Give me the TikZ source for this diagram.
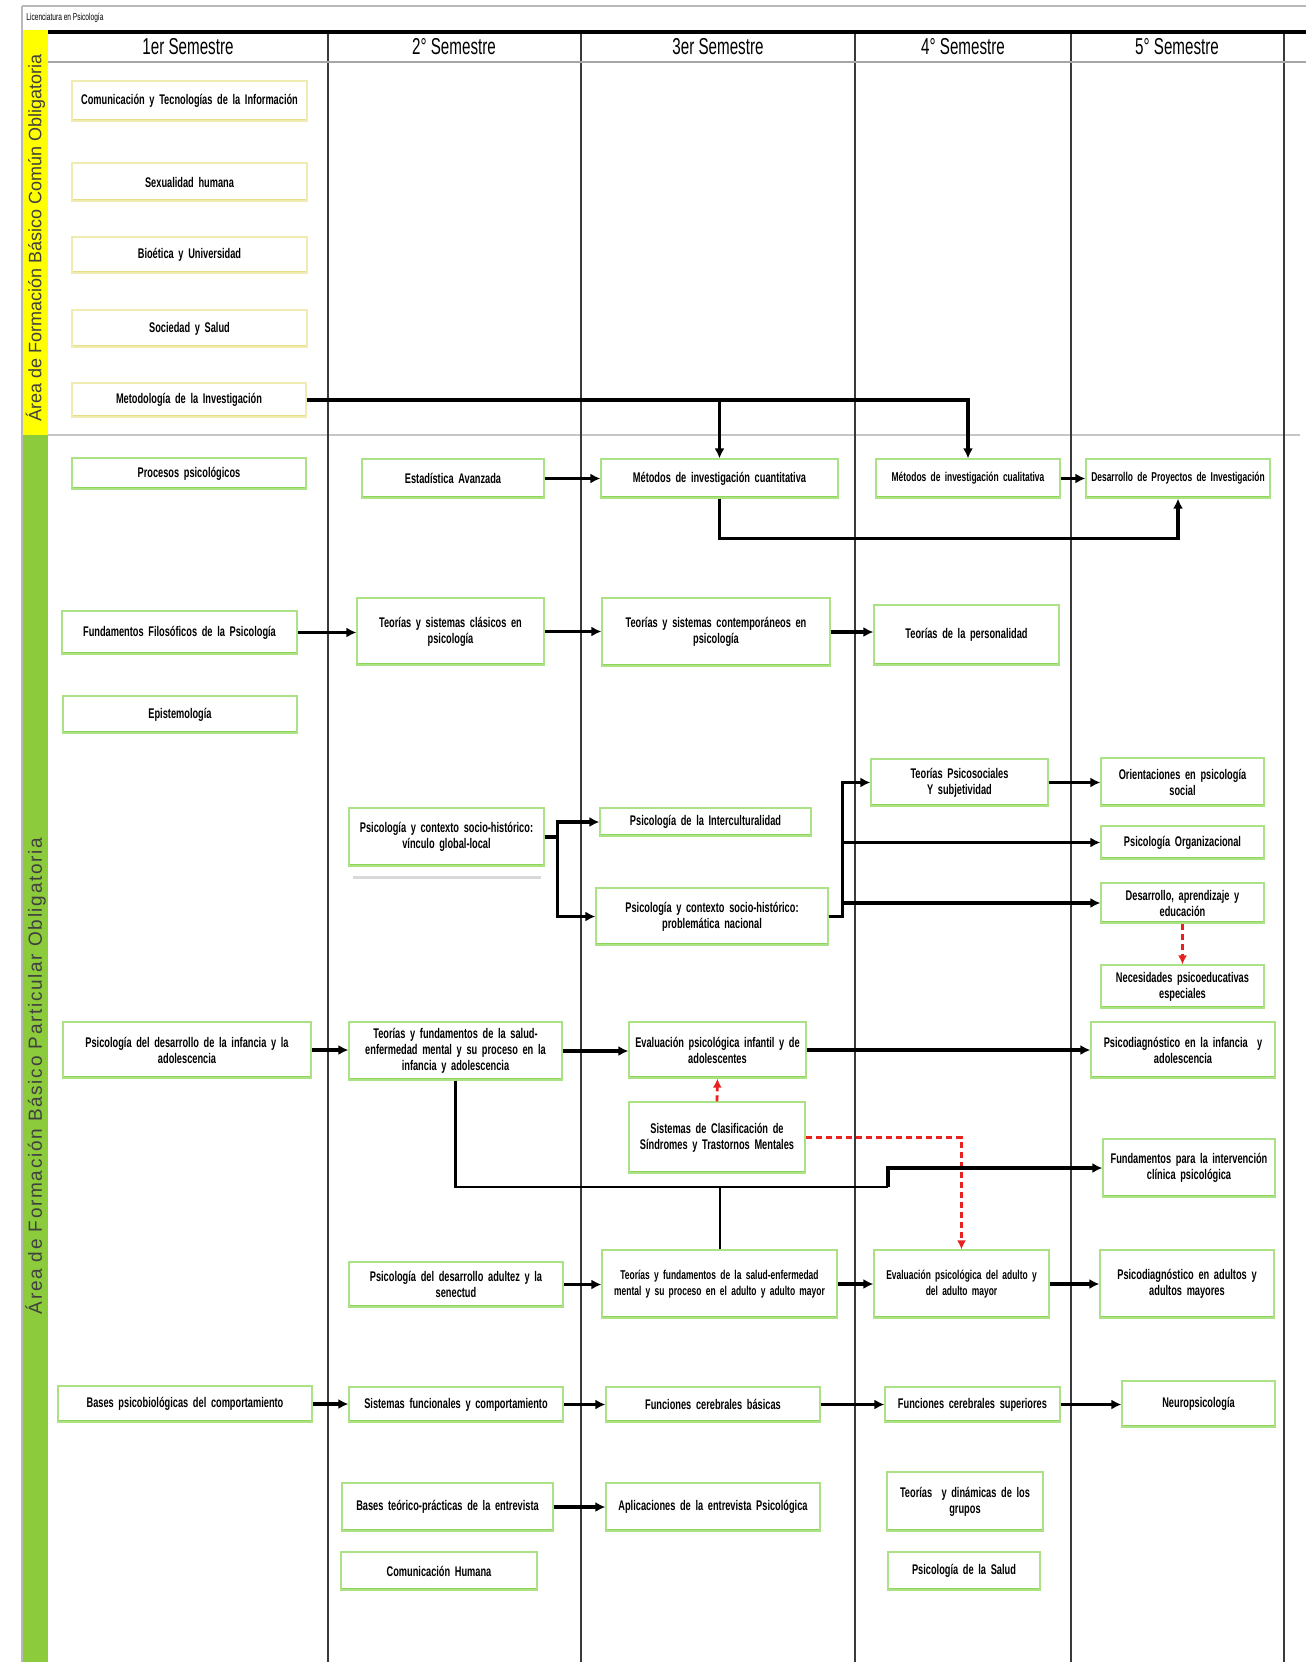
\documentclass[tikz,border=0pt]{standalone}
\usepackage{fontspec}
\setmainfont{Liberation Sans}
\newfontfamily\condf[FakeStretch=0.66]{Liberation Sans}
\newfontfamily\hdrf[FakeStretch=0.66]{Liberation Sans}
\newfontfamily\lblfont{Liberation Sans}
\newfontfamily\lblwide[LetterSpace=9]{Liberation Sans}
\usetikzlibrary{arrows.meta}
\definecolor{bandyellow}{HTML}{FFFF00}
\definecolor{bandgreen}{HTML}{8CCB3C}
\definecolor{boxgreen}{HTML}{ABE285}
\definecolor{boxgreenb}{HTML}{8ED65A}
\definecolor{boxyellow}{HTML}{F0EBB0}
\definecolor{boxyellowb}{HTML}{E6DE86}
\definecolor{dashred}{HTML}{E8231F}
\definecolor{colline}{HTML}{3A3A3A}
\newcommand{\boxfont}{\condf\bfseries\fontsize{7}{8}\selectfont\spaceskip=1.4pt plus 0.6pt minus 0.3pt\relax}
\newcommand{\boxfontsm}{\condf\bfseries\fontsize{6.4}{8}\selectfont\spaceskip=1.3pt plus 0.6pt minus 0.3pt\relax}
\newcommand{\hdrfont}{\hdrf\fontsize{11.5}{12}\selectfont}
\newcommand{\bx}[7][gbox]{%
  \pgfmathsetmacro{\bxcx}{(#3+#5)/2}%
  \pgfmathsetmacro{\bxcy}{(#4+#6)/2}%
  \pgfmathsetmacro{\bxw}{(#5-#3)*0.5}%
  \pgfmathsetmacro{\bxh}{(#6-#4)*0.5}%
  \pgfmathsetmacro{\bxtw}{(#5-#3)*0.5-4}%
  \node[#1, minimum width=\bxw pt, minimum height=\bxh pt, text width=\bxtw pt] (#2) at (\bxcx,\bxcy) {#7};%
}
\begin{document}
\begin{tikzpicture}[x=0.5pt,y=-0.5pt,
  gbox/.style={draw=boxgreen, line width=0.6pt, fill=white, align=center,
    inner xsep=2pt, inner ysep=1pt, font=\boxfont,
    path picture={\draw[boxgreenb,line width=1.6pt] (path picture bounding box.south west) -- (path picture bounding box.south east);}},
  ybox/.style={draw=boxyellow, line width=0.6pt, fill=white, align=center,
    inner xsep=2pt, inner ysep=1pt, font=\boxfont,
    path picture={\draw[boxyellowb,line width=1.6pt] (path picture bounding box.south west) -- (path picture bounding box.south east);}},
  arr/.style={line width=1.6pt, -{Latex[length=5pt,width=5pt]}},
  redarr/.style={dashred, line width=1.4pt, dash pattern=on 3pt off 2pt, -{Latex[length=4.5pt,width=4.5pt]}},
  hdr/.style={font=\hdrfont, inner sep=0pt},
  colrule/.style={colline, line width=0.8pt}]
\useasboundingbox (0,0) rectangle (1306,1662);
\fill[white] (0,0) rectangle (1306,1662);
% frame and title
\draw[gray!55, line width=0.8pt] (22,6) -- (1306,6);
\draw[gray!55, line width=0.6pt] (22,6) -- (22,1662);
\node[font=\hdrf\fontsize{5}{5}\selectfont, anchor=west, inner sep=0pt] (title) at (26,18) {Licenciatura en Psicología};
% bands
\fill[bandyellow] (23,30) rectangle (48,435);
\fill[bandgreen] (23,435) rectangle (48,1662);
\node[rotate=90, font=\lblfont\fontsize{9}{9}\selectfont, text=black!75, inner sep=0pt] (lblA) at (35.5,238) {Área de Formación Básico Común Obligatoria};
\node[rotate=90, font=\lblwide\fontsize{9.5}{9.5}\selectfont, text=black!75, inner sep=0pt] (lblB) at (35.5,1076) {Área de Formación Básico Particular Obligatoria};
% header and columns
\draw[gray!45, line width=0.6pt] (48,435) -- (1300,435);
\foreach \xx in {328,581,855,1071,1284} {\draw[colrule] (\xx,32) -- (\xx,1662);}
\draw[black, line width=1.6pt] (48,32) -- (1306,32);
\draw[gray!70, line width=1.1pt] (48,62) -- (1306,62);
\node[hdr] (h1) at (188,47) {1er Semestre};
\node[hdr] (h2) at (454,47) {2° Semestre};
\node[hdr] (h3) at (718,47) {3er Semestre};
\node[hdr] (h4) at (963,47) {4° Semestre};
\node[hdr] (h5) at (1177,47) {5° Semestre};
% yellow-area boxes
\bx[ybox]{com}{72}{81}{307}{121}{Comunicación y Tecnologías de la Información}
\bx[ybox]{sex}{72}{163}{307}{201}{Sexualidad humana}
\bx[ybox]{bio}{72}{237}{307}{273}{Bioética y Universidad}
\bx[ybox]{socs}{72}{310}{307}{347}{Sociedad y Salud}
\bx[ybox]{met}{72}{383}{306}{417}{Metodología de la Investigación}
% column 1
\bx{proc}{72}{458}{306}{489}{Procesos psicológicos}
\bx{fund}{62}{611}{297}{654}{Fundamentos Filosóficos de la Psicología}
\bx{epi}{63}{696}{297}{733}{Epistemología}
\bx{infd}{63}{1022}{311}{1078}{Psicología del desarrollo de la infancia y la\\adolescencia}
\bx{bpc}{58}{1386}{312}{1422}{Bases psicobiológicas del comportamiento}
% column 2
\bx{est}{362}{459}{544}{498}{Estadística Avanzada}
\bx{clas}{357}{598}{544}{665}{Teorías y sistemas clásicos en\\psicología}
\bx{soc1}{349}{808}{544}{866}{Psicología y contexto socio-histórico:\\vínculo global-local}
\fill[gray!30] (353,876) rectangle (541,879);
\bx{tfi}{349}{1022}{562}{1080}{Teorías y fundamentos de la salud-\\enfermedad mental y su proceso en la\\infancia y adolescencia}
\bx{adu}{349}{1262}{563}{1307}{Psicología del desarrollo adultez y la\\senectud}
\bx{sfc}{349}{1387}{563}{1422}{Sistemas funcionales y comportamiento}
\bx{btp}{342}{1483}{553}{1531}{Bases teórico-prácticas de la entrevista}
\bx{chum}{341}{1552}{537}{1590}{Comunicación Humana}
% column 3
\bx{cuant}{601}{459}{838}{498}{Métodos de investigación cuantitativa}
\bx{cont}{602}{598}{830}{666}{Teorías y sistemas contemporáneos en\\psicología}
\bx{inter}{600}{808}{811}{836}{Psicología de la Interculturalidad}
\bx{prob}{596}{888}{828}{945}{Psicología y contexto socio-histórico:\\problemática nacional}
\bx{evi}{629}{1022}{806}{1078}{Evaluación psicológica infantil y de\\adolescentes}
\bx{sis}{629}{1102}{805}{1173}{Sistemas de Clasificación de\\Síndromes y Trastornos Mentales}
\bx[gbox,font=\boxfontsm]{tfa}{602}{1250}{837}{1318}{Teorías y fundamentos de la salud-enfermedad\\mental y su proceso en el adulto y adulto mayor}
\bx{fcb}{606}{1387}{820}{1422}{Funciones cerebrales básicas}
\bx{apl}{606}{1483}{820}{1531}{Aplicaciones de la entrevista Psicológica}
% column 4
\bx[gbox,font=\boxfontsm]{cuali}{876}{459}{1060}{498}{Métodos de investigación cualitativa}
\bx{pers}{874}{605}{1059}{665}{Teorías de la personalidad}
\bx{psoc}{871}{759}{1048}{806}{Teorías Psicosociales\\Y subjetividad}
\bx[gbox,font=\boxfontsm]{eva}{874}{1250}{1049}{1318}{Evaluación psicológica del adulto y\\del adulto mayor}
\bx{fcs}{885}{1387}{1060}{1422}{Funciones cerebrales superiores}
\bx{grp}{887}{1472}{1043}{1531}{Teorías \ y dinámicas de los\\grupos}
\bx{psal}{888}{1552}{1040}{1590}{Psicología de la Salud}
% column 5
\bx[gbox,font=\boxfontsm]{proy}{1086}{459}{1270}{498}{Desarrollo de Proyectos de Investigación}
\bx{ori}{1101}{758}{1264}{806}{Orientaciones en psicología\\social}
\bx{org}{1101}{826}{1264}{859}{Psicología Organizacional}
\bx{dae}{1101}{883}{1264}{923}{Desarrollo, aprendizaje y\\educación}
\bx{nec}{1101}{965}{1264}{1008}{Necesidades psicoeducativas\\especiales}
\bx{pdi}{1091}{1022}{1275}{1078}{Psicodiagnóstico en la infancia \ y\\adolescencia}
\bx{fint}{1103}{1139}{1275}{1197}{Fundamentos para la intervención\\clínica psicológica}
\bx{pda}{1100}{1250}{1274}{1318}{Psicodiagnóstico en adultos y\\adultos mayores}
\bx{neu}{1122}{1381}{1275}{1427}{Neuropsicología}
% connectors
\coordinate (hb) at (888,1187);
\draw[arr] (met.east) -| (cuali.north);
\draw[arr] (met.east -| cuant.north) -- (cuant.north);
\draw[arr] (est.east) -- (cuant.west);
\draw[arr] (cuali.east) -- (proy.west);
\draw[arr] (cuant.south) -- ++(0,40) -| (proy.south);
\draw[arr] (fund.east) -- (fund.east -| clas.west);
\draw[arr] (clas.east) -- (clas.east -| cont.west);
\draw[arr] (cont.east) -- (cont.east -| pers.west);
\draw[arr] (soc1.east) -- ++(13,0) |- (inter.west);
\draw[arr] (soc1.east) -- ++(13,0) |- (prob.west);
\draw[arr] (prob.east) -- ++(14,0) |- (psoc.west);
\draw[arr] (prob.east) -- ++(14,0) |- (org.west);
\draw[arr] (prob.east) -- ++(14,0) |- (dae.west);
\draw[arr] (psoc.east) -- (psoc.east -| ori.west);
\draw[redarr] (dae.south) -- (nec.north);
\draw[arr] (infd.east) -- (infd.east -| tfi.west);
\draw[arr] (tfi.east) -- (tfi.east -| evi.west);
\draw[arr] (evi.east) -- (evi.east -| pdi.west);
\draw[redarr] (sis.north) -- (evi.south);
\draw[redarr] (sis.east) -| (eva.north);
\draw[line width=1.2pt] (tfi.south) |- (hb);
\draw[arr] (hb) |- (fint.west);
\draw[line width=1.0pt] (tfa.north) -- (tfa.north |- hb);
\draw[arr] (adu.east) -- (adu.east -| tfa.west);
\draw[arr] (tfa.east) -- (tfa.east -| eva.west);
\draw[arr] (eva.east) -- (eva.east -| pda.west);
\draw[arr] (bpc.east) -- (bpc.east -| sfc.west);
\draw[arr] (sfc.east) -- (sfc.east -| fcb.west);
\draw[arr] (fcb.east) -- (fcb.east -| fcs.west);
\draw[arr] (fcs.east) -- (fcs.east -| neu.west);
\draw[arr] (btp.east) -- (btp.east -| apl.west);
\end{tikzpicture}
\end{document}
